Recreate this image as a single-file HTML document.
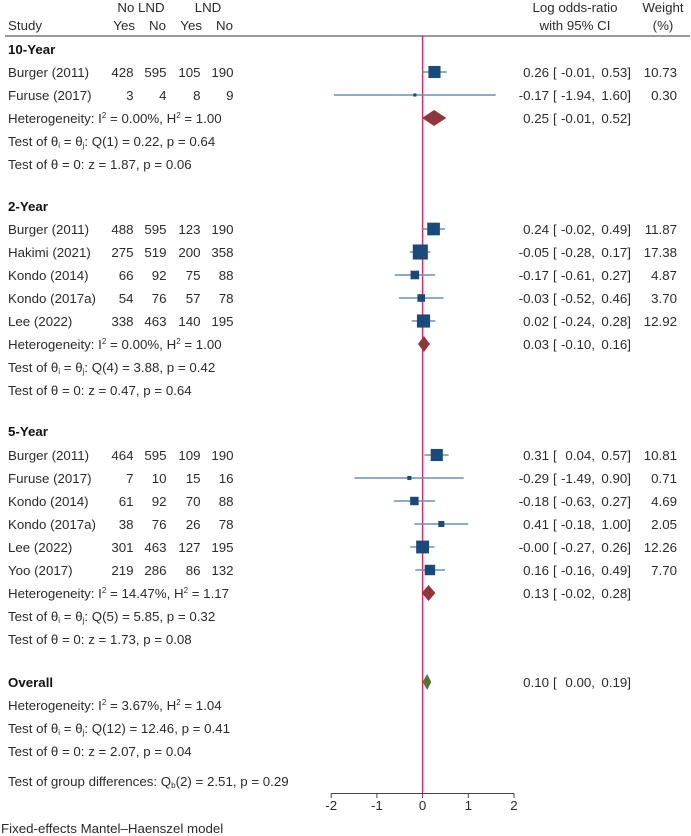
<!DOCTYPE html>
<html lang="en">
<head>
<meta charset="utf-8">
<title>Forest plot</title>
<style>
html,body{margin:0;padding:0;background:#fff}
svg{display:block}
text{font-family:"Liberation Sans",sans-serif;font-size:13.3px;fill:#2b2b2b}
.b{font-weight:bold;fill:#111}
.m{text-anchor:middle}
.e{text-anchor:end}
</style>
</head>
<body>
<svg id="chart" width="691" height="836" viewBox="0 0 691 836" xmlns="http://www.w3.org/2000/svg">
  <rect width="691" height="836" fill="#fff"/>
  <g>
    <text x="141" y="12" class="m">No LND</text>
    <text x="208" y="12" class="m">LND</text>
    <text x="8" y="30">Study</text>
    <text x="135" y="30" class="e">Yes</text>
    <text x="166" y="30" class="e">No</text>
    <text x="202" y="30" class="e">Yes</text>
    <text x="233" y="30" class="e">No</text>
    <text x="575" y="12" class="m">Log odds-ratio</text>
    <text x="575" y="30" class="m">with 95% CI</text>
    <text x="663" y="12" class="m">Weight</text>
    <text x="663" y="30" class="m">(%)</text>
    <line x1="5" x2="690" y1="36" y2="36" stroke="#333" stroke-width="1"/>
  </g>
  <g>
    <text class="b" x="8" y="54">10-Year</text>
    <text class="b" x="8" y="211">2-Year</text>
    <text class="b" x="8" y="436">5-Year</text>
    <text class="b" x="8" y="687">Overall</text>
  </g>
  <g>
    <text x="8" y="123">Heterogeneity: I<tspan font-size="8" dy="-5">2</tspan><tspan dy="5"> = 0.00%, H</tspan><tspan font-size="8" dy="-5">2</tspan><tspan dy="5"> = 1.00</tspan></text>
    <text x="8" y="146">Test of θ<tspan font-size="8" dy="2">i</tspan><tspan dy="-2"> = θ</tspan><tspan font-size="8" dy="2">j</tspan><tspan dy="-2">: Q(1) = 0.22, p = 0.64</tspan></text>
    <text x="8" y="169">Test of θ = 0: z = 1.87, p = 0.06</text>

    <text x="8" y="349">Heterogeneity: I<tspan font-size="8" dy="-5">2</tspan><tspan dy="5"> = 0.00%, H</tspan><tspan font-size="8" dy="-5">2</tspan><tspan dy="5"> = 1.00</tspan></text>
    <text x="8" y="372">Test of θ<tspan font-size="8" dy="2">i</tspan><tspan dy="-2"> = θ</tspan><tspan font-size="8" dy="2">j</tspan><tspan dy="-2">: Q(4) = 3.88, p = 0.42</tspan></text>
    <text x="8" y="395">Test of θ = 0: z = 0.47, p = 0.64</text>

    <text x="8" y="598">Heterogeneity: I<tspan font-size="8" dy="-5">2</tspan><tspan dy="5"> = 14.47%, H</tspan><tspan font-size="8" dy="-5">2</tspan><tspan dy="5"> = 1.17</tspan></text>
    <text x="8" y="621">Test of θ<tspan font-size="8" dy="2">i</tspan><tspan dy="-2"> = θ</tspan><tspan font-size="8" dy="2">j</tspan><tspan dy="-2">: Q(5) = 5.85, p = 0.32</tspan></text>
    <text x="8" y="644">Test of θ = 0: z = 1.73, p = 0.08</text>

    <text x="8" y="710">Heterogeneity: I<tspan font-size="8" dy="-5">2</tspan><tspan dy="5"> = 3.67%, H</tspan><tspan font-size="8" dy="-5">2</tspan><tspan dy="5"> = 1.04</tspan></text>
    <text x="8" y="733">Test of θ<tspan font-size="8" dy="2">i</tspan><tspan dy="-2"> = θ</tspan><tspan font-size="8" dy="2">j</tspan><tspan dy="-2">: Q(12) = 12.46, p = 0.41</tspan></text>
    <text x="8" y="756">Test of θ = 0: z = 2.07, p = 0.04</text>

    <text x="8" y="786">Test of group differences: Q<tspan font-size="8" dy="2">b</tspan><tspan dy="-2">(2) = 2.51, p = 0.29</tspan></text>
    <text x="1" y="833">Fixed-effects Mantel–Haenszel model</text>
  </g>
  <g id="rows"></g>
  <g id="marks"></g>
  <g id="axis"></g>
</svg>
<script>
// Study rows
const studies = ["Burger (2011)","Furuse (2017)","Burger (2011)","Hakimi (2021)","Kondo (2014)","Kondo (2017a)","Lee (2022)","Burger (2011)","Furuse (2017)","Kondo (2014)","Kondo (2017a)","Lee (2022)","Yoo (2017)"];
const rowNumbers = [1,2,8,9,10,11,12,18,19,20,21,22,23];
const noLndYes = [428,3,488,275,66,54,338,464,7,61,38,301,219];
const noLndNo = [595,4,595,519,92,76,463,595,10,92,76,463,286];
const lndYes = [105,8,123,200,75,57,140,109,15,70,26,127,86];
const lndNo = [190,9,190,358,88,78,195,190,16,88,78,195,132];
const effects = [0.26,-0.17,0.24,-0.05,-0.17,-0.03,0.02,0.31,-0.29,-0.18,0.41,-0.00,0.16];
const ciLower = [-0.01,-1.94,-0.02,-0.28,-0.61,-0.52,-0.24,0.04,-1.49,-0.63,-0.18,-0.27,-0.16];
const ciUpper = [0.53,1.60,0.49,0.17,0.27,0.46,0.28,0.57,0.90,0.27,1.00,0.26,0.49];
const weights = [10.73,0.30,11.87,17.38,4.87,3.70,12.92,10.81,0.71,4.69,2.05,12.26,7.70];
// Pooled rows
const pooledNames = ["10-year","2-year","5-year","overall"];
const pooledRows = [3,13,24,29];
const pooledEffects = [0.25,0.03,0.13,0.10];
const pooledLower = [-0.01,-0.10,-0.02,0.00];
const pooledUpper = [0.52,0.16,0.28,0.19];
// Axis
const xTicks = [-2,-1,0,1,2];

const NS = "http://www.w3.org/2000/svg";
const xScale = v => 422.6 + v * 45.7;
const yScale = r => r <= 5 ? 49 + r * 23
  : r <= 15 ? 229 + (r - 8) * 23
  : r <= 26 ? 455 + (r - 18) * 23
  : 682 + (r - 29) * 23;

function make(tag, attrs, parent, content) {
  const el = document.createElementNS(NS, tag);
  for (const k in attrs) el.setAttribute(k, attrs[k]);
  if (content !== undefined) el.textContent = content;
  parent.appendChild(el);
  return el;
}
const fix = v => (Object.is(v, -0) || (v < 0 && v.toFixed(2) === "0.00") ? "-0.00" : v.toFixed(2));

const rowsG = document.getElementById("rows");
const marksG = document.getElementById("marks");
const axisG = document.getElementById("axis");

function ciText(parent, row, eff, lo, hi) {
  const y = yScale(row) + 5;
  const a = make("text", {x: 549, y: y, class: "e"}, parent, fix(eff));
  
  
  const b = make("text", {x: 553, y: y}, parent, "[");
  
  
  const c = make("text", {x: 595, y: y, class: "e"}, parent, fix(lo) + ",");
  
  
  const d = make("text", {x: 631, y: y, class: "e"}, parent, fix(hi) + "]");
  
  
}

// Reference line at zero, drawn under the study marks
const refLine = make("line", {x1: xScale(0), x2: xScale(0), y1: 36, y2: 793, stroke: "#e0265f", "stroke-width": 1.4}, marksG);



studies.forEach((name, i) => {
  const row = rowNumbers[i];
  const y = yScale(row);
  const g = make("g", {}, rowsG);
  
  
  const label = make("text", {x: 8, y: y + 5}, g, name);
  
  
  const c1 = make("text", {x: 133.5, y: y + 5, class: "e"}, g, noLndYes[i]);
  
  
  const c2 = make("text", {x: 166.5, y: y + 5, class: "e"}, g, noLndNo[i]);
  
  
  const c3 = make("text", {x: 200.5, y: y + 5, class: "e"}, g, lndYes[i]);
  
  
  const c4 = make("text", {x: 233.5, y: y + 5, class: "e"}, g, lndNo[i]);
  
  
  ciText(g, row, effects[i], ciLower[i], ciUpper[i]);
  const w = make("text", {x: 677, y: y + 5, class: "e"}, g, weights[i].toFixed(2));
  
  

  const ci = make("line", {x1: xScale(ciLower[i]), x2: xScale(ciUpper[i]), y1: y, y2: y, stroke: "#6c8fb0", "stroke-width": 1.6}, marksG);
  
  
  const side = 1.3 + 3.3 * Math.sqrt(weights[i]);
  const sq = make("rect", {x: xScale(effects[i]) - side / 2, y: y - side / 2, width: side, height: side, fill: "#1a4a7a"}, marksG);
  
  
});

pooledNames.forEach((name, i) => {
  const row = pooledRows[i];
  const y = yScale(row);
  const g = make("g", {}, rowsG);
  
  
  ciText(g, row, pooledEffects[i], pooledLower[i], pooledUpper[i]);
  const c = xScale(pooledEffects[i]);
  const l = xScale(pooledLower[i]);
  const u = xScale(pooledUpper[i]);
  const fill = name === "overall" ? "#55752f" : "#90353b";
  const d = make("polygon", {points: `${l},${y} ${c},${y - 8} ${u},${y} ${c},${y + 8}`, fill: fill}, marksG);
  
  
});

const axisLine = make("line", {x1: xScale(xTicks[0]), x2: xScale(xTicks[xTicks.length - 1]), y1: 793.5, y2: 793.5, stroke: "#444", "stroke-width": 1}, axisG);


xTicks.forEach(t => {
  const tick = make("line", {x1: xScale(t), x2: xScale(t), y1: 793.5, y2: 798, stroke: "#444", "stroke-width": 1}, axisG);
  
  
  const lab = make("text", {x: xScale(t), y: 810, class: "m"}, axisG, t);
  
  
});
</script>
</body>
</html>
